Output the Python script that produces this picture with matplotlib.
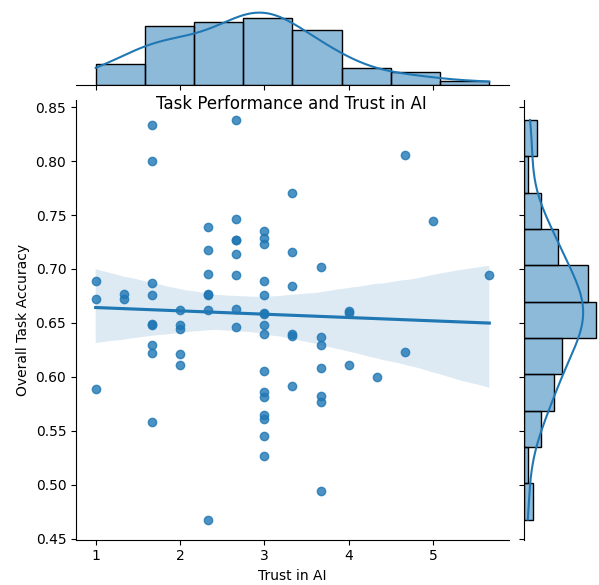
import matplotlib
matplotlib.use("Agg")
import matplotlib.pyplot as plt
import numpy as np
import pandas as pd
import seaborn as sns

# trust score (mean of three items) and the accuracies observed at each score
trust_levels = [1, 4/3, 5/3, 2, 7/3, 8/3, 3, 10/3, 11/3, 4, 13/3, 14/3, 5, 17/3]
accuracy_by_level = [
    [0.689, 0.672, 0.589],
    [0.677, 0.672],
    [0.833, 0.800, 0.687, 0.676, 0.649, 0.648, 0.630, 0.622, 0.558],
    [0.662, 0.648, 0.644, 0.621, 0.611],
    [0.739, 0.718, 0.695, 0.677, 0.676, 0.662, 0.468],
    [0.838, 0.746, 0.727, 0.727, 0.714, 0.694, 0.663, 0.646],
    [0.735, 0.729, 0.723, 0.689, 0.676, 0.659, 0.658, 0.648, 0.640, 0.606,
     0.586, 0.581, 0.565, 0.561, 0.545, 0.527],
    [0.770, 0.716, 0.684, 0.640, 0.638, 0.592],
    [0.702, 0.637, 0.630, 0.608, 0.582, 0.577, 0.494],
    [0.661, 0.659, 0.611],
    [0.600],
    [0.806, 0.623],
    [0.744],
    [0.694],
]
x_bins = 8
y_bins = 11

trust = [t for t, accs in zip(trust_levels, accuracy_by_level) for _ in accs]
accuracy = [a for accs in accuracy_by_level for a in accs]
df = pd.DataFrame({"Trust in AI": trust, "Overall Task Accuracy": accuracy})

g = sns.JointGrid(data=df, x="Trust in AI", y="Overall Task Accuracy", height=6)
g.plot_joint(sns.regplot, seed=3)
sns.histplot(data=df, x="Trust in AI", bins=x_bins, kde=True, ax=g.ax_marg_x)
sns.histplot(data=df, y="Overall Task Accuracy", bins=y_bins, kde=True,
             ax=g.ax_marg_y)

# fixed canvas, axes placed in pixel terms
W, H = 599, 585
g.figure.set_size_inches(W / 100, H / 100)

def place(ax, x0, y0, x1, y1):
    ax.set_position([x0 / W, 1 - y1 / H, (x1 - x0) / W, (y1 - y0) / H])

place(g.ax_joint, 76, 100, 509, 539.5)
place(g.ax_marg_x, 76, 9, 509, 84.8)
place(g.ax_marg_y, 524.2, 100, 600, 539.5)

g.figure.text(291.5 / W, 1 - 104 / H, "Task Performance and Trust in AI",
              ha="center", va="center", fontsize=12)

g.figure.savefig("out.png", dpi=100)
